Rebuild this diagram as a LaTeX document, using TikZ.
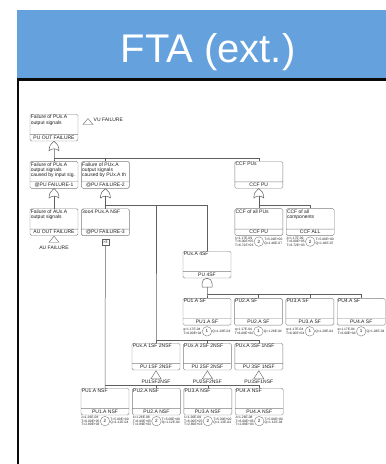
\documentclass[tikz,border=0pt]{standalone}
\usepackage{fontspec}
\setmainfont{Liberation Sans}
\usepackage{tikz}
\usetikzlibrary{positioning, calc, shapes.geometric, shapes.multipart}
\definecolor{headerBlue}{RGB}{100, 161, 221}
\definecolor{frameBlack}{RGB}{10, 10, 10}
\definecolor{boxGray}{RGB}{125, 125, 125}
\definecolor{lineGray}{RGB}{95, 95, 95}
\definecolor{textDark}{RGB}{30, 30, 30}
\newcommand{\eventText}[2]{\parbox[t][18.4pt][t]{46pt}{\raggedright #1}\nodepart{two}\rule[-0.9pt]{0pt}{3.6pt}#2}

\begin{document}
\begin{tikzpicture}[
    x=1pt, y=-1pt,
    node distance=20pt and 3pt,
    event/.style={rectangle split, rectangle split parts=2, rectangle split part align={left,center}, draw=boxGray, fill=white, rounded corners=1.5pt, minimum width=48pt, inner sep=0.8pt, text=textDark, font=\fontsize{5}{5.3}\selectfont},
    gate/.style={draw=lineGray, line width=0.5pt, fill=white},
    orgate/.pic={\draw [gate] (0pt,0pt) .. controls (3pt,-2pt) and (5pt,-5pt) .. (5pt,-9.5pt) .. controls (2pt,-7pt) and (-2pt,-7pt) .. (-5pt,-9.5pt) .. controls (-5pt,-5pt) and (-3pt,-2pt) .. (0pt,0pt); \coordinate (-in) at (0pt,-7.6pt);},
    andgate/.pic={\draw [gate] (-5pt,-9pt) -- (-5pt,-5pt) arc[start angle=180, end angle=0, radius=5pt] -- (5pt,-9pt) -- cycle; \coordinate (-in) at (0pt,-9pt);},
    transfer/.style={isosceles triangle, shape border rotate=90, isosceles triangle stretches, draw=lineGray, minimum width=10pt, minimum height=7pt, inner sep=0pt, anchor=apex},
    vote/.style={rectangle, draw=lineGray, inner sep=0.7pt, minimum width=7pt, minimum height=6pt, text=textDark, font=\fontsize{4}{4}\selectfont},
    rate/.style={circle, draw=boxGray, minimum size=9.5pt, inner sep=0pt, text=textDark, font=\fontsize{4.6}{4.6}\selectfont},
    ratetext/.style={align=left, inner sep=0.3pt, text=textDark, font=\fontsize{3.3}{3.4}\selectfont},
    tag/.style={inner sep=0.5pt, text=textDark, font=\fontsize{5}{5}\selectfont},
    line/.style={draw=lineGray, line width=0.5pt}
]
\useasboundingbox (0,0) rectangle (386,464);

% Header
\fill [headerBlue] (17,10) rectangle (386,78);
\node (title) [anchor=base, text=white, font=\fontsize{40}{40}\selectfont] at (208,62) {FTA (ext.)};
\draw [frameBlack, line width=2.6pt] (17.8,464) -- (17.8,79.6) -- (386,79.6);

% Events
\node (puout) [event, anchor=north] at (54,114) {\eventText{Failure of PUx.A\\output signals}{PU OUT FAILURE}};
\node (vuin) [transfer, minimum height=6pt] at (88,118) {};
\node (vutag) [tag, anchor=west] at (93,119.5) {VU FAILURE};

\node (pufail1) [event, below=of puout] {\eventText{Failure of PUx.A\\output signals\\caused by input sig.}{@PU FAILURE-1}};
\node (pufail2) [event, right=of pufail1] {\eventText{Failure of PUx.A\\output signals\\caused by PUx.A th}{@PU FAILURE-2}};
\node (ccfpus) [event, right=105pt of pufail2] {\eventText{CCF PUs}{CCF PU}};

\node (auout) [event, below=of pufail1] {\eventText{Failure of AUx.A\\output signals}{AU OUT FAILURE}};
\node (pufail3) [event, below=of pufail2] {\eventText{3oo4 PUx.A NSF}{@PU FAILURE-3}};
\node (ccfallpu) [event, below=of ccfpus] {\eventText{CCF of all PUs}{CCF PU}};
\node (ccfall) [event, right=of ccfallpu] {\eventText{CCF of all\\components}{CCF ALL}};
\node (auin) [transfer, minimum height=6pt] at (auout.south) {};
\node (autag) [tag, below=3pt of auin] {AU FAILURE};
\node (vote) [vote, below=3pt of pufail3] {>3};

\node (sf4) [event, anchor=north] at (207,251) {\eventText{PUx.A 4SF}{PU 4SF}};
\node (sfpu1) [event, below=of sf4] {\eventText{PU1.A SF}{PU1.A SF}};
\node (sfpu2) [event, right=of sfpu1] {\eventText{PU2.A SF}{PU2.A SF}};
\node (sfpu3) [event, right=of sfpu2] {\eventText{PU3.A SF}{PU3.A SF}};
\node (sfpu4) [event, right=of sfpu3] {\eventText{PU4.A SF}{PU4.A SF}};

\node (mix1) [event, anchor=north] at (156,343) {\eventText{PUx.A 1SF 2NSF}{PU 1SF 2NSF}};
\node (mix2) [event, right=of mix1] {\eventText{PUx.A 2SF 2NSF}{PU 2SF 2NSF}};
\node (mix3) [event, right=of mix2] {\eventText{PUx.A 3SF 1NSF}{PU 3SF 1NSF}};
\node (mix1in) [transfer, minimum height=8pt] at (mix1.south) {};
\node (mix2in) [transfer, minimum height=8pt] at (mix2.south) {};
\node (mix3in) [transfer, minimum height=8pt] at (mix3.south) {};
\node (mix1tag) [tag, below=0.3pt of mix1in] {PU1SF2NSF};
\node (mix2tag) [tag, below=0.3pt of mix2in] {PU2SF2NSF};
\node (mix3tag) [tag, below=0.3pt of mix3in] {PU3SF1NSF};

\node (nsfpu1) [event, anchor=north] at (105,388) {\eventText{PU1.A NSF}{PU1.A NSF}};
\node (nsfpu2) [event, right=of nsfpu1] {\eventText{PU2.A NSF}{PU2.A NSF}};
\node (nsfpu3) [event, right=of nsfpu2] {\eventText{PU3.A NSF}{PU3.A NSF}};
\node (nsfpu4) [event, right=of nsfpu3] {\eventText{PU4.A NSF}{PU4.A NSF}};

% Gates
\pic (g0) at (puout.south) {orgate};
\pic (g1) at (pufail1.south) {orgate};
\pic (g2) at (pufail2.south) {orgate};
\pic (g3) at (ccfpus.south) {orgate};
\pic (g4) at (sf4.south) {andgate};

% Basic event data
\node (ccfallpuc) [rate, below=1pt of ccfallpu, label={[ratetext, name=ccfallpul]left:λ=1.17E-09\\T=6.00E+05\\T=6.72E+03}, label={[ratetext, name=ccfallpur]right:T=5.00E+00\\Q=1.46E-07}] {2};
\node (ccfallc) [rate, below=1pt of ccfall, label={[ratetext, name=ccfalll]left:λ=1.17E-09\\T=6.00E+05\\T=6.72E+03}, label={[ratetext, name=ccfallr]right:T=5.00E+00\\Q=1.46E-07}] {2};
\node (sfpu1c) [rate, below=1pt of sfpu1, label={[ratetext, name=sfpu1l]left:q=1.17E-04\\T=6.00E+04}, label={[ratetext, name=sfpu1r]right:Q=1.28E-04}] {1};
\node (sfpu2c) [rate, below=1pt of sfpu2, label={[ratetext, name=sfpu2l]left:q=1.17E-04\\T=6.00E+04}, label={[ratetext, name=sfpu2r]right:Q=1.28E-04}] {1};
\node (sfpu3c) [rate, below=1pt of sfpu3, label={[ratetext, name=sfpu3l]left:q=1.17E-04\\T=6.00E+04}, label={[ratetext, name=sfpu3r]right:Q=1.28E-04}] {1};
\node (sfpu4c) [rate, below=1pt of sfpu4, label={[ratetext, name=sfpu4l]left:q=1.17E-04\\T=6.00E+04}, label={[ratetext, name=sfpu4r]right:Q=1.28E-04}] {1};
\node (nsfpu1c) [rate, below=1pt of nsfpu1, label={[ratetext, name=nsfpu1l]left:λ=1.26E-08\\T=6.00E+05\\T=2.89E+03}, label={[ratetext, name=nsfpu1r]right:T=5.00E+00\\Q=1.12E-04}] {2};
\node (nsfpu2c) [rate, below=1pt of nsfpu2, label={[ratetext, name=nsfpu2l]left:λ=1.26E-08\\T=6.00E+05\\T=2.89E+03}, label={[ratetext, name=nsfpu2r]right:T=5.00E+00\\Q=1.12E-04}] {2};
\node (nsfpu3c) [rate, below=1pt of nsfpu3, label={[ratetext, name=nsfpu3l]left:λ=1.26E-08\\T=6.00E+05\\T=2.89E+03}, label={[ratetext, name=nsfpu3r]right:T=5.00E+00\\Q=1.12E-04}] {2};
\node (nsfpu4c) [rate, below=1pt of nsfpu4, label={[ratetext, name=nsfpu4l]left:λ=1.26E-08\\T=6.00E+05\\T=2.89E+03}, label={[ratetext, name=nsfpu4r]right:T=5.00E+00\\Q=1.12E-04}] {2};

% Connectors
\coordinate (bus0) at ($(pufail1.north)+(0,2.5pt)$);
\path [line] (g0-in) -- (bus0) -- (pufail1.north);
\path [line] (bus0) -| (pufail2.north);
\path [line] (bus0) -| (ccfpus.north);
\path [line] (g1-in) -- (auout.north);
\coordinate (bus2) at ($(pufail3.north)+(0,3pt)$);
\path [line] (g2-in) -- (bus2) -- (pufail3.north);
\path [line] (bus2) -| (sf4.north);
\coordinate (bus5) at ($(mix1.north)+(0,3pt)$);
\path [line] (bus2) -| (bus5) -- (mix1.north);
\path [line] (bus5) -| (mix2.north);
\path [line] (bus5) -| (mix3.north);
\coordinate (bus3) at ($(ccfallpu.north)+(0,3pt)$);
\path [line] (g3-in) -- (bus3) -- (ccfallpu.north);
\path [line] (bus3) -| (ccfall.north);
\coordinate (bus4) at ($(sfpu1.north)+(0,4pt)$);
\path [line] (g4-in) -- (bus4) -- (sfpu1.north);
\path [line] (bus4) -| (sfpu2.north);
\path [line] (bus4) -| (sfpu3.north);
\path [line] (bus4) -| (sfpu4.north);
\coordinate (bus6) at ($(nsfpu1.north)+(0,3pt)$);
\path [line] (vote.south) -- (bus6) -- (nsfpu1.north);
\path [line] (bus6) -| (nsfpu2.north);
\path [line] (bus6) -| (nsfpu3.north);
\path [line] (bus6) -| (nsfpu4.north);

\end{tikzpicture}
\end{document}
